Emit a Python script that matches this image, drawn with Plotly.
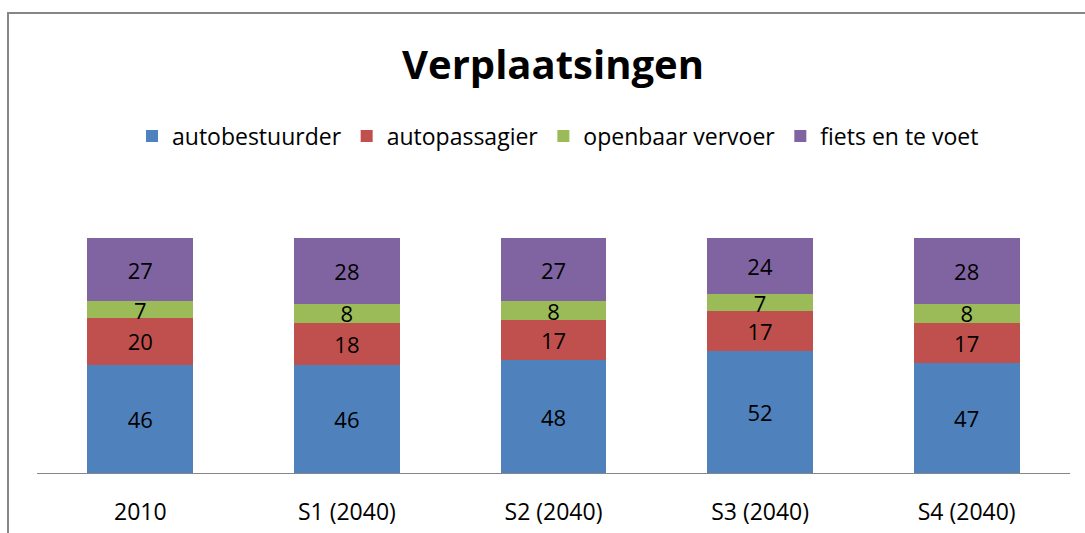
import plotly.graph_objects as go

categories = ["2010", "S1 (2040)", "S2 (2040)", "S3 (2040)", "S4 (2040)"]
autobestuurder = [46, 46, 48, 52, 47]
autopassagier = [20, 18, 17, 17, 17]
openbaar_vervoer = [7, 8, 8, 7, 8]
fiets_en_te_voet = [27, 28, 27, 24, 28]

series = [
    ("autobestuurder", autobestuurder, "#4F81BD"),
    ("autopassagier", autopassagier, "#C0504D"),
    ("openbaar vervoer", openbaar_vervoer, "#9BBB59"),
    ("fiets en te voet", fiets_en_te_voet, "#8064A2"),
]

FONT = "Open Sans"
W, H = 1085, 533
L, R, T, B = 37, 15, 238, 60

fig = go.Figure()
for name, vals, col in series:
    fig.add_trace(go.Bar(
        x=categories, y=vals, name=name, marker=dict(color=col, line=dict(width=0)),
        text=[str(v) for v in vals], textposition="inside", insidetextanchor="middle",
        textangle=0,
        textfont=dict(color="black", size=22, family=FONT), constraintext="none",
        hoverinfo="skip",
    ))

plot_h = H - T - B
plot_w = W - L - R
fig.update_layout(
    barmode="stack", bargap=0.487,
    width=W, height=H,
    margin=dict(l=L, r=R, t=T, b=B, autoexpand=False),
    paper_bgcolor="white", plot_bgcolor="white",
    font=dict(family=FONT, color="black"),
    title=dict(text="<b>Verplaatsingen</b>", x=553 / W, xanchor="center",
               y=1 - 65 / H, yanchor="middle", font=dict(size=40, family=FONT)),
    legend=dict(orientation="h", x=(558 - L) / plot_w, xanchor="center",
                y=(H - B - 136) / plot_h,
                yanchor="middle", font=dict(size=23, family=FONT), traceorder="normal",
                itemwidth=30),
    xaxis=dict(showline=True, linecolor="#868686", linewidth=1, ticks="",
               tickfont=dict(size=23, family=FONT), showgrid=False,
               ticklabelstandoff=18, automargin=False),
    yaxis=dict(range=[0, 100], visible=False, automargin=False),
    shapes=[dict(type="rect", xref="paper", yref="paper",
                 x0=(8 - L) / plot_w, x1=1.2, y0=-0.6, y1=(H - B - 13) / plot_h,
                 line=dict(color="#868686", width=2), fillcolor="rgba(0,0,0,0)", layer="below")],
)
fig.write_html("out.html", config={"displayModeBar": False},
               post_script="document.body.style.margin='0';")
